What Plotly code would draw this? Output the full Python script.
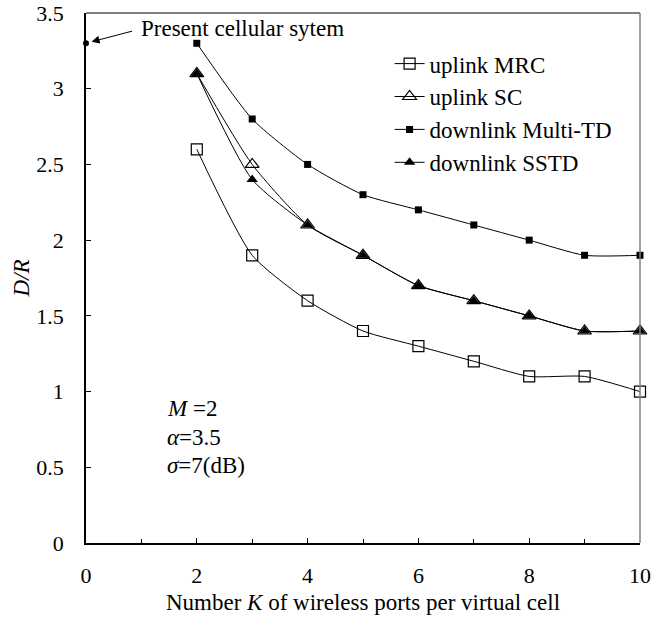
import plotly.graph_objects as go

K = [2, 3, 4, 5, 6, 7, 8, 9, 10]
uplink_mrc = [2.6, 1.9, 1.6, 1.4, 1.3, 1.2, 1.1, 1.1, 1.0]
uplink_sc = [3.1, 2.5, 2.1, 1.9, 1.7, 1.6, 1.5, 1.4, 1.4]
downlink_multitd = [3.3, 2.8, 2.5, 2.3, 2.2, 2.1, 2.0, 1.9, 1.9]
downlink_sstd = [3.1, 2.4, 2.1, 1.9, 1.7, 1.6, 1.5, 1.4, 1.4]
present_x = [0]
present_y = [3.3]

FONT = "Liberation Serif"
TXT = 23

fig = go.Figure()

series = [
    ("uplink MRC", uplink_mrc, dict(symbol="square-open", size=11, color="black", line=dict(width=1.2))),
    ("uplink SC", uplink_sc, dict(symbol="triangle-up-open", size=12, color="black", line=dict(width=1.2))),
    ("downlink Multi-TD", downlink_multitd, dict(symbol="square", size=7, color="black")),
    ("downlink SSTD", downlink_sstd, dict(symbol="triangle-up", size=10, color="black")),
]
for i, (name, ys, mk) in enumerate(series):
    fig.add_trace(go.Scatter(
        x=K, y=ys, name=name, mode="lines+markers",
        line=dict(color="black", width=1, shape="spline", smoothing=0.6),
        marker=mk, cliponaxis=False, legendgroup=f"g{i}",
    ))

fig.add_trace(go.Scatter(
    x=present_x, y=present_y, mode="markers", showlegend=False,
    marker=dict(symbol="circle", size=6, color="black"), cliponaxis=False,
))

fig.update_layout(
    width=671, height=624,
    margin=dict(l=86, r=31, t=13, b=81, autoexpand=False),
    paper_bgcolor="white", plot_bgcolor="white",
    font=dict(family=FONT, size=22, color="black"),
    showlegend=True,
    legend=dict(
        x=0.548, y=0.945, xanchor="left", yanchor="top",
        bgcolor="rgba(0,0,0,0)", font=dict(family=FONT, size=TXT),
        tracegroupgap=0, itemwidth=30,
    ),
    xaxis=dict(
        range=[0, 10], tickmode="array", tickvals=[0, 2, 4, 6, 8, 10],
        ticks="inside", ticklen=5, tickcolor="black", tickwidth=1,
        minor=dict(tickvals=[1, 3, 5, 7, 9], ticks="inside", ticklen=4, tickcolor="black"),
        showgrid=False, zeroline=False, automargin=False,
        showline=True, linecolor="black", linewidth=1.5, mirror=False,
        ticklabelstandoff=12,
        title=dict(text="Number <i>K</i> of wireless ports per virtual cell",
                   font=dict(family=FONT, size=TXT), standoff=7),
    ),
    yaxis=dict(
        range=[0, 3.5], tickmode="array",
        tickvals=[0, 0.5, 1, 1.5, 2, 2.5, 3, 3.5],
        ticktext=["0", "0.5", "1", "1.5", "2", "2.5", "3", "3.5"],
        ticks="inside", ticklen=5, tickcolor="black", tickwidth=1,
        showgrid=False, zeroline=False, automargin=False,
        showline=True, linecolor="black", linewidth=1.5, mirror=False,
        ticklabelstandoff=16,
        title=dict(text="<i>D/R</i>", font=dict(family=FONT, size=TXT), standoff=0),
    ),
    shapes=[
        dict(type="line", xref="paper", yref="paper", x0=0, x1=1, y0=1, y1=1,
             line=dict(color="black", width=1.2)),
        dict(type="line", xref="paper", yref="paper", x0=1, x1=1, y0=0, y1=1,
             line=dict(color="gray", width=1.5)),
    ],
    annotations=[
        dict(x=0.1, y=3.31, xref="x", yref="y", text="", showarrow=True,
             arrowhead=2, arrowsize=1.6, arrowwidth=1, arrowcolor="black",
             ax=42, ay=-11),
        dict(x=0.95, y=3.40, xref="x", yref="y", text="Present cellular sytem",
             showarrow=False, xanchor="left", yanchor="middle",
             font=dict(family=FONT, size=TXT)),
        dict(x=1.43, y=0.89, xref="x", yref="y", text="<i>M</i> =2",
             showarrow=False, xanchor="left", yanchor="middle",
             font=dict(family=FONT, size=TXT)),
        dict(x=1.43, y=0.70, xref="x", yref="y", text="<i>α</i>=3.5",
             showarrow=False, xanchor="left", yanchor="middle",
             font=dict(family=FONT, size=TXT)),
        dict(x=1.43, y=0.51, xref="x", yref="y", text="<i>σ</i>=7(dB)",
             showarrow=False, xanchor="left", yanchor="middle",
             font=dict(family=FONT, size=TXT)),
    ],
)

fig.write_html("out.html")
